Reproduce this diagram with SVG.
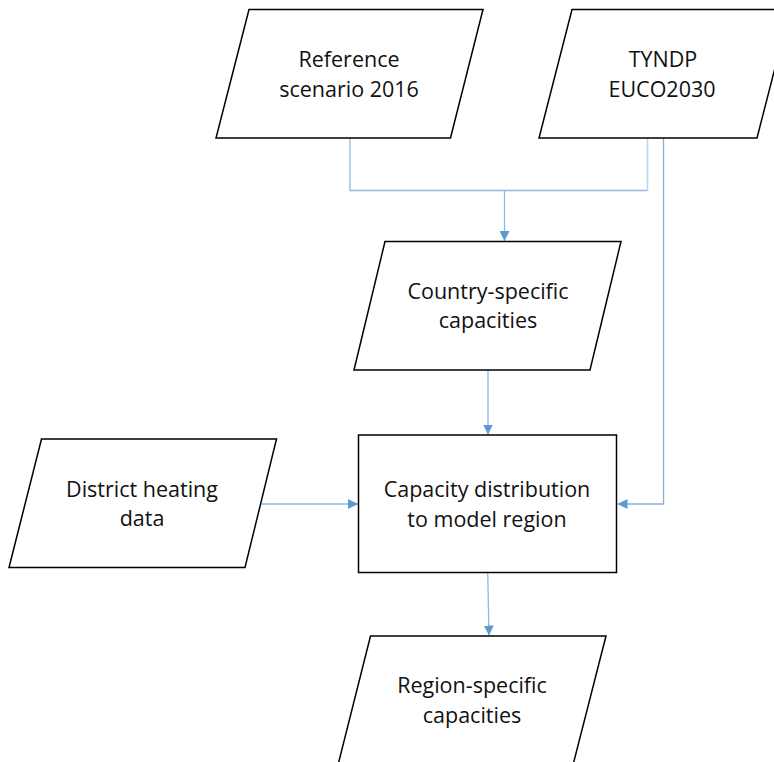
<svg xmlns="http://www.w3.org/2000/svg" width="774" height="762" viewBox="0 0 774 762">
  <style>
    .shape { fill: #ffffff; stroke: #000000; stroke-width: 1.5; }
    .label { font-family: "Open Sans", "Noto Sans", sans-serif; font-size: 21.5px; fill: #111111; text-anchor: middle; }
    .wire { fill: none; stroke: #8fb8e3; stroke-width: 1.3; }
    .wire-light { fill: none; stroke: #bcd6f0; stroke-width: 1.6; }
    .wire-dark { fill: none; stroke: #8aaedc; stroke-width: 1.3; }
  </style>
  <defs>
    <marker id="arrow" viewBox="0 0 10 10" refX="10" refY="5" markerWidth="10" markerHeight="10" markerUnits="userSpaceOnUse" orient="auto">
      <path d="M0,0 L10,5 L0,10 Z" fill="#5b9bd5"/>
    </marker>
  </defs>
  <rect width="774" height="762" fill="#ffffff"/>

  <g id="connectors">
    <!-- Reference scenario + TYNDP merge into country-specific capacities -->
    <path class="wire" d="M350,138 V190.5 H647.5"/>
    <path class="wire-light" d="M647.5,138 V190.5"/>
    <path class="wire" d="M504.5,190.5 V241" marker-end="url(#arrow)"/>
    <!-- TYNDP directly into capacity distribution -->
    <path class="wire-dark" d="M663.5,138 V504 H617.5" marker-end="url(#arrow)"/>
    <!-- Country-specific capacities down to capacity distribution -->
    <path class="wire" d="M488,370 V434.5" marker-end="url(#arrow)"/>
    <!-- District heating data into capacity distribution -->
    <path class="wire" d="M261,504 H358" marker-end="url(#arrow)"/>
    <!-- Capacity distribution down to region-specific capacities -->
    <path class="wire" d="M487.7,572.5 L489,635.5" marker-end="url(#arrow)"/>
  </g>

  <g id="reference-scenario">
    <polygon class="shape" points="249,9.5 483,9.5 450.5,138 216,138"/>
    <text class="label" x="349" y="67">Reference</text>
    <text class="label" x="349" y="97">scenario 2016</text>
  </g>

  <g id="tyndp">
    <polygon class="shape" points="572,9.5 790,9.5 757,138 539,138"/>
    <text class="label" x="663" y="67">TYNDP</text>
    <text class="label" x="662" y="97">EUCO2030</text>
  </g>

  <g id="country-specific">
    <polygon class="shape" points="385,241.5 621,241.5 590,370 354,370"/>
    <text class="label" x="488" y="299">Country-specific</text>
    <text class="label" x="488" y="328">capacities</text>
  </g>

  <g id="district-heating">
    <polygon class="shape" points="41.5,439 276.5,439 245,567.5 9,567.5"/>
    <text class="label" x="142" y="497">District heating</text>
    <text class="label" x="142" y="526">data</text>
  </g>

  <g id="capacity-distribution">
    <rect class="shape" x="358.5" y="435" width="258" height="137.5"/>
    <text class="label" x="487" y="497">Capacity distribution</text>
    <text class="label" x="487" y="527">to model region</text>
  </g>

  <g id="region-specific">
    <polygon class="shape" points="370.5,636 606,636 573,765 338,765"/>
    <text class="label" x="472" y="693">Region-specific</text>
    <text class="label" x="472" y="723">capacities</text>
  </g>
</svg>
